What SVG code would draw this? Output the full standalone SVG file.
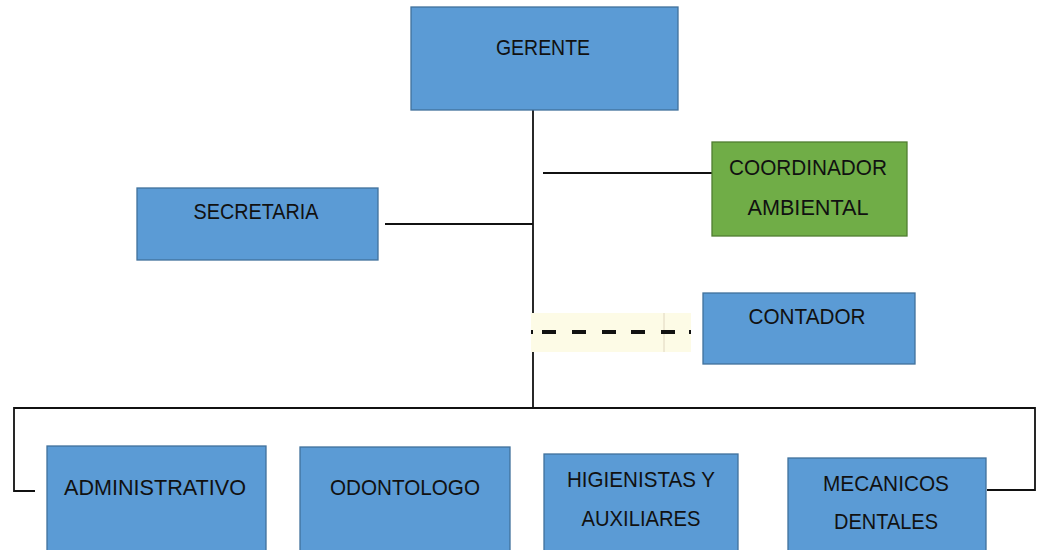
<svg xmlns="http://www.w3.org/2000/svg" width="1040" height="550" viewBox="0 0 1040 550">
<style>
.b{fill:#5b9bd5;stroke:#41719c;stroke-width:1.3}
.g{fill:#70ad47;stroke:#507e32;stroke-width:1.3}
.t{font-family:"Liberation Sans",Arial,sans-serif;font-size:22px;fill:#111;text-anchor:middle}
.c{fill:none;stroke:#111;stroke-width:1.8}
</style>
<rect width="1040" height="550" fill="#fff"/>
<g id="connectors">
<line class="c" x1="533" y1="110" x2="533" y2="408"/>
<line class="c" x1="385" y1="224" x2="533" y2="224"/>
<line class="c" x1="543" y1="173" x2="712" y2="173"/>
<rect x="531" y="313" width="160" height="39" fill="#fdfbe6"/>
<line x1="664" y1="313" x2="664" y2="352" stroke="#e0d6c0" stroke-width="1"/>
<line x1="531" y1="332" x2="693" y2="332" stroke="#111" stroke-width="4" stroke-dasharray="2 9 14 16 14 16 14 15 14 16 14 14 2"/>
<polyline class="c" points="35,491 14,491 14,408 1035,408 1035,490 987,490"/>
</g>
<g id="gerente"><rect class="b" x="411" y="7" width="267" height="103"/><text class="t" x="543" y="55" textLength="94" lengthAdjust="spacingAndGlyphs">GERENTE</text></g>
<g id="secretaria"><rect class="b" x="137" y="188" width="241" height="72"/><text class="t" x="256" y="219" textLength="125" lengthAdjust="spacingAndGlyphs">SECRETARIA</text></g>
<g id="coordinador"><rect class="g" x="712" y="142" width="195" height="94"/><text class="t" x="808" y="175" textLength="158" lengthAdjust="spacingAndGlyphs">COORDINADOR</text><text class="t" x="808" y="215" textLength="121" lengthAdjust="spacingAndGlyphs">AMBIENTAL</text></g>
<g id="contador"><rect class="b" x="703" y="293" width="212" height="71"/><text class="t" x="807" y="324" textLength="117" lengthAdjust="spacingAndGlyphs">CONTADOR</text></g>
<g id="administrativo"><rect class="b" x="47" y="446" width="219" height="110"/><text class="t" x="155" y="495" textLength="182" lengthAdjust="spacingAndGlyphs">ADMINISTRATIVO</text></g>
<g id="odontologo"><rect class="b" x="300" y="447" width="210" height="110"/><text class="t" x="405" y="495" textLength="150" lengthAdjust="spacingAndGlyphs">ODONTOLOGO</text></g>
<g id="higienistas"><rect class="b" x="544" y="454" width="194" height="110"/><text class="t" x="641" y="487" textLength="148" lengthAdjust="spacingAndGlyphs">HIGIENISTAS Y</text><text class="t" x="641" y="526" textLength="119" lengthAdjust="spacingAndGlyphs">AUXILIARES</text></g>
<g id="mecanicos"><rect class="b" x="788" y="458" width="198" height="110"/><text class="t" x="886" y="491" textLength="126" lengthAdjust="spacingAndGlyphs">MECANICOS</text><text class="t" x="886" y="529" textLength="104" lengthAdjust="spacingAndGlyphs">DENTALES</text></g>
</svg>
